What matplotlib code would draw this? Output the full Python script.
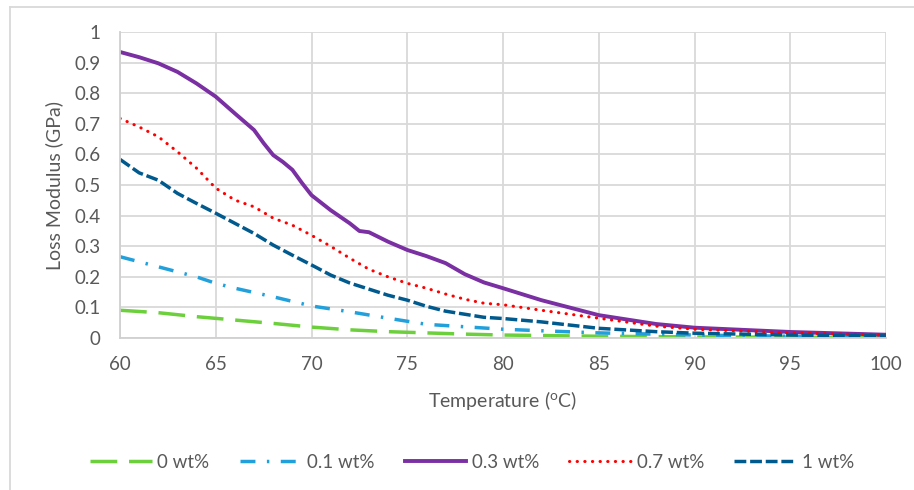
import matplotlib
matplotlib.use("Agg")
import matplotlib.pyplot as plt
from matplotlib.lines import Line2D

plt.rcParams['font.family'] = ['Lato', 'DejaVu Sans']

labels = ["0 wt%", "0.1 wt%", "0.3 wt%", "0.7 wt%", "1 wt%"]

t_0 = [60, 62, 64, 66, 68, 70, 72, 74, 76, 78, 80, 85, 90, 95, 100]
v_0 = [0.091, 0.083, 0.070, 0.059, 0.048, 0.036, 0.027, 0.021, 0.017, 0.013, 0.010, 0.006, 0.004, 0.003, 0.002]

t_01 = [60, 62, 64, 65, 66, 68, 70, 72, 74, 76, 78, 80, 82, 85, 90, 95, 100]
v_01 = [0.266, 0.233, 0.200, 0.179, 0.163, 0.135, 0.105, 0.086, 0.065, 0.045, 0.037, 0.029, 0.024, 0.017, 0.010, 0.006, 0.004]

t_03 = [60, 61, 62, 63, 64, 65, 66, 67, 67.5, 68, 68.5, 69, 69.5, 70, 71, 72, 72.5, 73, 74, 75, 76, 77, 78, 79, 80, 82, 85, 88, 90, 95, 100]
v_03 = [0.935, 0.918, 0.898, 0.870, 0.832, 0.789, 0.734, 0.680, 0.637, 0.598, 0.576, 0.550, 0.507, 0.467, 0.418, 0.375, 0.350, 0.346, 0.315, 0.288, 0.268, 0.245, 0.209, 0.182, 0.163, 0.124, 0.075, 0.046, 0.034, 0.020, 0.011]

t_07 = [60, 61, 62, 63, 64, 65, 66, 67, 68, 69, 70, 71, 72, 73, 74, 75, 76, 77, 78, 79, 80, 82, 85, 88, 90, 95, 100]
v_07 = [0.718, 0.690, 0.658, 0.609, 0.555, 0.490, 0.451, 0.429, 0.392, 0.369, 0.336, 0.300, 0.261, 0.225, 0.200, 0.179, 0.163, 0.144, 0.127, 0.114, 0.109, 0.091, 0.065, 0.039, 0.029, 0.017, 0.010]

t_1 = [60, 61, 62, 63, 64, 65, 66, 67, 68, 69, 70, 71, 72, 73, 74, 75, 76, 77, 78, 79, 80, 82, 85, 88, 90, 95, 100]
v_1 = [0.584, 0.540, 0.516, 0.473, 0.440, 0.408, 0.375, 0.342, 0.304, 0.271, 0.239, 0.206, 0.180, 0.160, 0.140, 0.124, 0.104, 0.088, 0.078, 0.068, 0.064, 0.053, 0.032, 0.021, 0.016, 0.010, 0.007]

x_ticks = [60, 65, 70, 75, 80, 85, 90, 95, 100]
y_ticks = [0, 0.1, 0.2, 0.3, 0.4, 0.5, 0.6, 0.7, 0.8, 0.9, 1]
y_tick_labels = ["0", "0.1", "0.2", "0.3", "0.4", "0.5", "0.6", "0.7", "0.8", "0.9", "1"]

fig = plt.figure(figsize=(9.14, 4.9), dpi=100)
ax = fig.add_axes([0.1313, 0.310, 0.8381, 0.6245])

lw = 2.5
ax.plot(t_0, v_0, color="#6ccf3c", lw=lw, dashes=(7.7, 3.4), label=labels[0])
ax.plot(t_01, v_01, color="#22a0dc", lw=lw, dashes=(4.3, 3.3, 0.7, 3.3), label=labels[1])
ax.plot(t_03, v_03, color="#7a2fa2", lw=2.8, label=labels[2])
ax.plot(t_07, v_07, color="#ff0000", lw=2.2, dashes=(0.1, 2.4), dash_capstyle="round", label=labels[3])
ax.plot(t_1, v_1, color="#005a8e", lw=lw, dashes=(3.4, 1.1), label=labels[4])

ax.set_xlim(60, 100)
ax.set_ylim(0, 1)
ax.set_xticks(x_ticks)
ax.set_yticks(y_ticks)
ax.set_yticklabels(y_tick_labels)
ax.grid(True, color="#d9d9d9", lw=1.3)
ax.set_axisbelow(True)
for s in ["top", "right"]:
    ax.spines[s].set_visible(False)
for s in ["left", "bottom"]:
    ax.spines[s].set_color("#d0d0d0")
    ax.spines[s].set_linewidth(1.3)
ax.tick_params(length=0, labelsize=13.5, colors="#595959")
ax.tick_params(axis="x", pad=13)
ax.tick_params(axis="y", pad=14)

ax.set_xlabel("Temperature ($\\mathregular{^{o}}$C)", fontsize=14, color="#595959")
ax.set_ylabel("Loss Modulus (GPa)", fontsize=14, color="#595959")
ax.xaxis.set_label_coords(0.5, (338 - 400) / 306)
ax.xaxis.label.set_verticalalignment("center")
ax.yaxis.set_label_coords((54 - 120) / 766, 0.5)
ax.yaxis.label.set_verticalalignment("center")

leg = fig.legend(loc="center", bbox_to_anchor=(472 / 914, 1 - 462 / 490), ncol=5, frameon=False,
                 fontsize=13.5, handlelength=3.3, handletextpad=0.3, columnspacing=1.6)
for t in leg.get_texts():
    t.set_color("#595959")

fig.add_artist(Line2D([10 / 914, 10 / 914], [0, 1 - 7 / 490], transform=fig.transFigure,
                      color="#d9d9d9", lw=1.3))
fig.add_artist(Line2D([10 / 914, 1], [1 - 7 / 490, 1 - 7 / 490], transform=fig.transFigure,
                      color="#d9d9d9", lw=1.3))

fig.savefig("out.png", dpi=100)
